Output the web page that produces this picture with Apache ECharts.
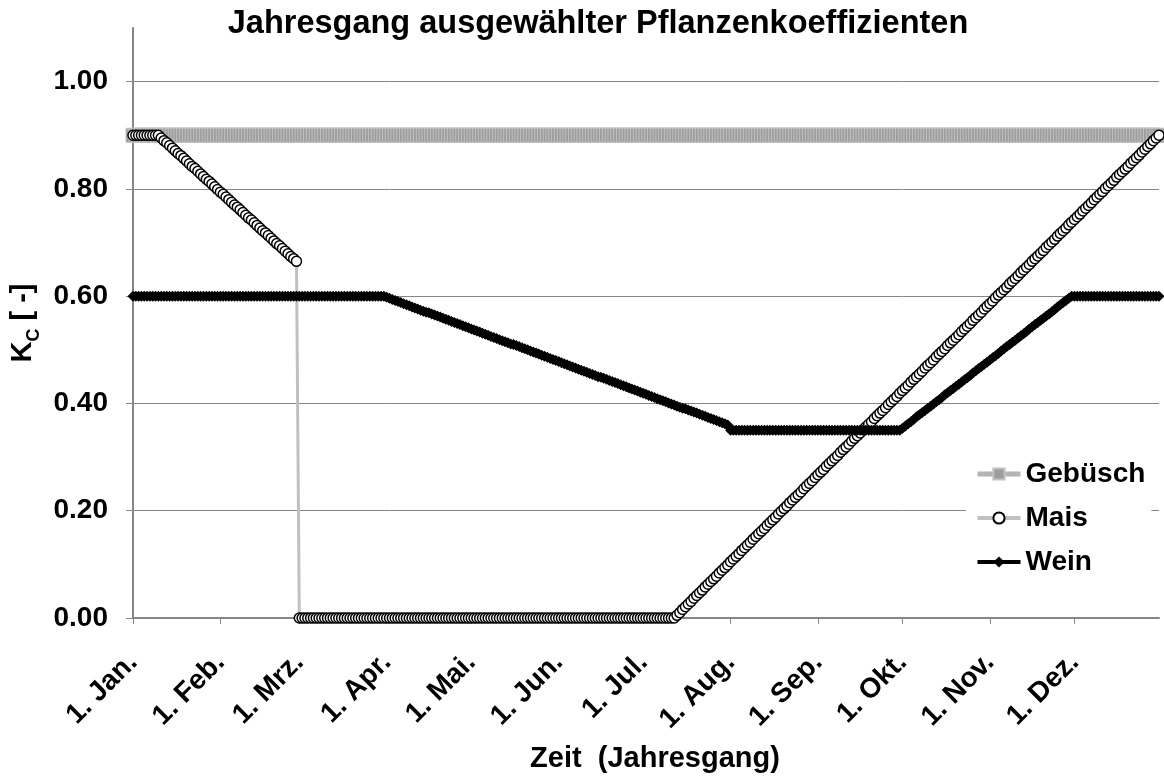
<!DOCTYPE html>
<html>
<head>
<meta charset="utf-8">
<script src="https://cdn.jsdelivr.net/npm/echarts@6/dist/echarts.min.js"></script>
<style>
  html, body { margin: 0; padding: 0; background: #fff; }
  #Kc { width: 1164px; height: 776px; }
</style>
</head>
<body>
<div id="Kc"></div>
<script>
// Monate (Achsenbeschriftung)
const monthLabels = ['Jan.', 'Feb.', 'Mrz.', 'Apr.', 'Mai.', 'Jun.', 'Jul.', 'Aug.', 'Sep.', 'Okt.', 'Nov.', 'Dez.']
const monthDays = [31, 28, 31, 30, 31, 30, 31, 31, 30, 31, 30, 31]
const yTicks = [0, 0.2, 0.4, 0.6, 0.8, 1.0]

// Tageswerte Kc, 1. Jan. .. 31. Dez.
const gebueschKc = [
  0.9, 0.9, 0.9, 0.9, 0.9, 0.9, 0.9, 0.9, 0.9, 0.9, 0.9, 0.9, 0.9, 0.9, 0.9, 0.9, 0.9, 0.9, 0.9, 0.9,
  0.9, 0.9, 0.9, 0.9, 0.9, 0.9, 0.9, 0.9, 0.9, 0.9, 0.9, 0.9, 0.9, 0.9, 0.9, 0.9, 0.9, 0.9, 0.9, 0.9,
  0.9, 0.9, 0.9, 0.9, 0.9, 0.9, 0.9, 0.9, 0.9, 0.9, 0.9, 0.9, 0.9, 0.9, 0.9, 0.9, 0.9, 0.9, 0.9, 0.9,
  0.9, 0.9, 0.9, 0.9, 0.9, 0.9, 0.9, 0.9, 0.9, 0.9, 0.9, 0.9, 0.9, 0.9, 0.9, 0.9, 0.9, 0.9, 0.9, 0.9,
  0.9, 0.9, 0.9, 0.9, 0.9, 0.9, 0.9, 0.9, 0.9, 0.9, 0.9, 0.9, 0.9, 0.9, 0.9, 0.9, 0.9, 0.9, 0.9, 0.9,
  0.9, 0.9, 0.9, 0.9, 0.9, 0.9, 0.9, 0.9, 0.9, 0.9, 0.9, 0.9, 0.9, 0.9, 0.9, 0.9, 0.9, 0.9, 0.9, 0.9,
  0.9, 0.9, 0.9, 0.9, 0.9, 0.9, 0.9, 0.9, 0.9, 0.9, 0.9, 0.9, 0.9, 0.9, 0.9, 0.9, 0.9, 0.9, 0.9, 0.9,
  0.9, 0.9, 0.9, 0.9, 0.9, 0.9, 0.9, 0.9, 0.9, 0.9, 0.9, 0.9, 0.9, 0.9, 0.9, 0.9, 0.9, 0.9, 0.9, 0.9,
  0.9, 0.9, 0.9, 0.9, 0.9, 0.9, 0.9, 0.9, 0.9, 0.9, 0.9, 0.9, 0.9, 0.9, 0.9, 0.9, 0.9, 0.9, 0.9, 0.9,
  0.9, 0.9, 0.9, 0.9, 0.9, 0.9, 0.9, 0.9, 0.9, 0.9, 0.9, 0.9, 0.9, 0.9, 0.9, 0.9, 0.9, 0.9, 0.9, 0.9,
  0.9, 0.9, 0.9, 0.9, 0.9, 0.9, 0.9, 0.9, 0.9, 0.9, 0.9, 0.9, 0.9, 0.9, 0.9, 0.9, 0.9, 0.9, 0.9, 0.9,
  0.9, 0.9, 0.9, 0.9, 0.9, 0.9, 0.9, 0.9, 0.9, 0.9, 0.9, 0.9, 0.9, 0.9, 0.9, 0.9, 0.9, 0.9, 0.9, 0.9,
  0.9, 0.9, 0.9, 0.9, 0.9, 0.9, 0.9, 0.9, 0.9, 0.9, 0.9, 0.9, 0.9, 0.9, 0.9, 0.9, 0.9, 0.9, 0.9, 0.9,
  0.9, 0.9, 0.9, 0.9, 0.9, 0.9, 0.9, 0.9, 0.9, 0.9, 0.9, 0.9, 0.9, 0.9, 0.9, 0.9, 0.9, 0.9, 0.9, 0.9,
  0.9, 0.9, 0.9, 0.9, 0.9, 0.9, 0.9, 0.9, 0.9, 0.9, 0.9, 0.9, 0.9, 0.9, 0.9, 0.9, 0.9, 0.9, 0.9, 0.9,
  0.9, 0.9, 0.9, 0.9, 0.9, 0.9, 0.9, 0.9, 0.9, 0.9, 0.9, 0.9, 0.9, 0.9, 0.9, 0.9, 0.9, 0.9, 0.9, 0.9,
  0.9, 0.9, 0.9, 0.9, 0.9, 0.9, 0.9, 0.9, 0.9, 0.9, 0.9, 0.9, 0.9, 0.9, 0.9, 0.9, 0.9, 0.9, 0.9, 0.9,
  0.9, 0.9, 0.9, 0.9, 0.9, 0.9, 0.9, 0.9, 0.9, 0.9, 0.9, 0.9, 0.9, 0.9, 0.9, 0.9, 0.9, 0.9, 0.9, 0.9,
  0.9, 0.9, 0.9, 0.9, 0.9
]

const maisKc = [
  0.9, 0.9, 0.9, 0.9, 0.9, 0.9, 0.9, 0.9, 0.9, 0.9,
  0.895, 0.890, 0.886, 0.881, 0.876, 0.871, 0.866, 0.862, 0.857, 0.852,
  0.847, 0.842, 0.838, 0.833, 0.828, 0.823, 0.818, 0.814, 0.809, 0.804,
  0.799, 0.794, 0.790, 0.785, 0.780, 0.775, 0.770, 0.766, 0.761, 0.756,
  0.751, 0.746, 0.742, 0.737, 0.732, 0.727, 0.722, 0.718, 0.713, 0.708,
  0.703, 0.698, 0.694, 0.689, 0.684, 0.679, 0.674, 0.670, 0.665,
  0, 0, 0, 0, 0, 0, 0, 0, 0, 0, 0, 0, 0, 0, 0, 0, 0, 0, 0, 0,
  0, 0, 0, 0, 0, 0, 0, 0, 0, 0, 0, 0, 0, 0, 0, 0, 0, 0, 0, 0,
  0, 0, 0, 0, 0, 0, 0, 0, 0, 0, 0, 0, 0, 0, 0, 0, 0, 0, 0, 0,
  0, 0, 0, 0, 0, 0, 0, 0, 0, 0, 0, 0, 0, 0, 0, 0, 0, 0, 0, 0,
  0, 0, 0, 0, 0, 0, 0, 0, 0, 0, 0, 0, 0, 0, 0, 0, 0, 0, 0, 0,
  0, 0, 0, 0, 0, 0, 0, 0, 0, 0, 0, 0, 0, 0, 0, 0, 0, 0, 0, 0,
  0, 0, 0, 0, 0, 0, 0, 0, 0, 0, 0, 0, 0, 0,
  0.005, 0.010, 0.016, 0.021, 0.026, 0.031, 0.037, 0.042, 0.047, 0.052,
  0.058, 0.063, 0.068, 0.073, 0.078, 0.084, 0.089, 0.094, 0.099, 0.105,
  0.110, 0.115, 0.120, 0.126, 0.131, 0.136, 0.141, 0.147, 0.152, 0.157,
  0.162, 0.167, 0.173, 0.178, 0.183, 0.188, 0.194, 0.199, 0.204, 0.209,
  0.215, 0.220, 0.225, 0.230, 0.235, 0.241, 0.246, 0.251, 0.256, 0.262,
  0.267, 0.272, 0.277, 0.283, 0.288, 0.293, 0.298, 0.303, 0.309, 0.314,
  0.319, 0.324, 0.330, 0.335, 0.340, 0.345, 0.351, 0.356, 0.361, 0.366,
  0.372, 0.377, 0.382, 0.387, 0.392, 0.398, 0.403, 0.408, 0.413, 0.419,
  0.424, 0.429, 0.434, 0.440, 0.445, 0.450, 0.455, 0.460, 0.466, 0.471,
  0.476, 0.481, 0.487, 0.492, 0.497, 0.502, 0.508, 0.513, 0.518, 0.523,
  0.528, 0.534, 0.539, 0.544, 0.549, 0.555, 0.560, 0.565, 0.570, 0.576,
  0.581, 0.586, 0.591, 0.597, 0.602, 0.607, 0.612, 0.617, 0.623, 0.628,
  0.633, 0.638, 0.644, 0.649, 0.654, 0.659, 0.665, 0.670, 0.675, 0.680,
  0.685, 0.691, 0.696, 0.701, 0.706, 0.712, 0.717, 0.722, 0.727, 0.733,
  0.738, 0.743, 0.748, 0.753, 0.759, 0.764, 0.769, 0.774, 0.780, 0.785,
  0.790, 0.795, 0.801, 0.806, 0.811, 0.816, 0.822, 0.827, 0.832, 0.837,
  0.842, 0.848, 0.853, 0.858, 0.863, 0.869, 0.874, 0.879, 0.884, 0.890,
  0.895, 0.900
]

const weinKc = [
  0.6, 0.6, 0.6, 0.6, 0.6, 0.6, 0.6, 0.6, 0.6, 0.6, 0.6, 0.6, 0.6, 0.6, 0.6, 0.6, 0.6, 0.6, 0.6, 0.6,
  0.6, 0.6, 0.6, 0.6, 0.6, 0.6, 0.6, 0.6, 0.6, 0.6, 0.6, 0.6, 0.6, 0.6, 0.6, 0.6, 0.6, 0.6, 0.6, 0.6,
  0.6, 0.6, 0.6, 0.6, 0.6, 0.6, 0.6, 0.6, 0.6, 0.6, 0.6, 0.6, 0.6, 0.6, 0.6, 0.6, 0.6, 0.6, 0.6, 0.6,
  0.6, 0.6, 0.6, 0.6, 0.6, 0.6, 0.6, 0.6, 0.6, 0.6, 0.6, 0.6, 0.6, 0.6, 0.6, 0.6, 0.6, 0.6, 0.6, 0.6,
  0.6, 0.6, 0.6, 0.6, 0.6, 0.6, 0.6, 0.6, 0.6, 0.6,
  0.598, 0.596, 0.594, 0.592, 0.590, 0.588, 0.586, 0.584, 0.582, 0.580,
  0.578, 0.576, 0.574, 0.572, 0.570, 0.569, 0.567, 0.565, 0.563, 0.561,
  0.559, 0.557, 0.555, 0.553, 0.551, 0.549, 0.547, 0.545, 0.543, 0.541,
  0.539, 0.537, 0.535, 0.533, 0.531, 0.529, 0.527, 0.525, 0.523, 0.521,
  0.519, 0.517, 0.515, 0.513, 0.511, 0.510, 0.508, 0.506, 0.504, 0.502,
  0.500, 0.498, 0.496, 0.494, 0.492, 0.490, 0.488, 0.486, 0.484, 0.482,
  0.480, 0.478, 0.476, 0.474, 0.472, 0.470, 0.468, 0.466, 0.464, 0.462,
  0.460, 0.458, 0.456, 0.454, 0.452, 0.450, 0.449, 0.447, 0.445, 0.443,
  0.441, 0.439, 0.437, 0.435, 0.433, 0.431, 0.429, 0.427, 0.425, 0.423,
  0.421, 0.419, 0.417, 0.415, 0.413, 0.411, 0.409, 0.407, 0.405, 0.403,
  0.401, 0.399, 0.397, 0.395, 0.393, 0.391, 0.390, 0.388, 0.386, 0.384,
  0.382, 0.380, 0.378, 0.376, 0.374, 0.372, 0.370, 0.368, 0.366, 0.364,
  0.362, 0.360,
  0.35, 0.35, 0.35, 0.35, 0.35, 0.35, 0.35, 0.35, 0.35, 0.35, 0.35, 0.35, 0.35, 0.35, 0.35, 0.35, 0.35, 0.35, 0.35, 0.35,
  0.35, 0.35, 0.35, 0.35, 0.35, 0.35, 0.35, 0.35, 0.35, 0.35, 0.35, 0.35, 0.35, 0.35, 0.35, 0.35, 0.35, 0.35, 0.35, 0.35,
  0.35, 0.35, 0.35, 0.35, 0.35, 0.35, 0.35, 0.35, 0.35, 0.35, 0.35, 0.35, 0.35, 0.35, 0.35, 0.35, 0.35, 0.35, 0.35, 0.35,
  0.35,
  0.354, 0.358, 0.362, 0.366, 0.370, 0.375, 0.379, 0.383, 0.387, 0.391,
  0.395, 0.399, 0.403, 0.407, 0.411, 0.416, 0.420, 0.424, 0.428, 0.432,
  0.436, 0.440, 0.444, 0.448, 0.452, 0.457, 0.461, 0.465, 0.469, 0.473,
  0.477, 0.481, 0.485, 0.489, 0.493, 0.498, 0.502, 0.506, 0.510, 0.514,
  0.518, 0.522, 0.526, 0.530, 0.534, 0.539, 0.543, 0.547, 0.551, 0.555,
  0.559, 0.563, 0.567, 0.571, 0.575, 0.580, 0.584, 0.588, 0.592, 0.596,
  0.600,
  0.6, 0.6, 0.6, 0.6, 0.6, 0.6, 0.6, 0.6, 0.6, 0.6, 0.6, 0.6, 0.6, 0.6, 0.6, 0.6, 0.6, 0.6, 0.6, 0.6,
  0.6, 0.6, 0.6, 0.6, 0.6, 0.6, 0.6, 0.6, 0.6, 0.6, 0.6
]

// Kategorien: ein Eintrag pro Tag
const days = []
const monthStarts = []
monthLabels.forEach((m, i) => {
  monthStarts.push(days.length)
  for (let d = 1; d <= monthDays[i]; d++) days.push(d + '. ' + m)
})

const font = 'Liberation Sans, Arial, sans-serif'
const isMonthStart = idx => monthStarts.indexOf(idx) >= 0

const options = {
  animation: false,
  backgroundColor: '#fff',
  textStyle: { fontFamily: font },
  title: {
    text: 'Jahresgang ausgewählter Pflanzenkoeffizienten',
    left: 593,
    top: 3,
    textAlign: 'center',
    textStyle: { fontFamily: font, fontSize: 32.5, fontWeight: 'bold', color: '#000' }
  },
  grid: {
    left: 133,
    right: 5,
    top: 28,
    bottom: 158,
    containLabel: false,
    outerBoundsMode: 'none'
  },
  legend: {
    orient: 'vertical',
    left: 966,
    top: 456,
    padding: [4, 6, 4, 9],
    backgroundColor: '#fff',
    itemWidth: 43,
    itemHeight: 14,
    itemGap: 16,
    textStyle: { fontFamily: font, fontSize: 28, fontWeight: 'bold', color: '#000' },
    data: [
      { name: 'Gebüsch', lineStyle: { width: 5, color: '#b4b4b4' } },
      { name: 'Mais', lineStyle: { width: 4, color: '#c0c0c0' } },
      { name: 'Wein', lineStyle: { width: 4, color: '#000' } }
    ]
  },
  xAxis: {
    type: 'category',
    boundaryGap: false,
    data: days,
    name: 'Zeit  (Jahresgang)',
    nameLocation: 'middle',
    nameGap: 126,
    nameTextStyle: { fontFamily: font, fontSize: 29, fontWeight: 'bold', color: '#000', padding: [0, 0, 0, 18] },
    axisLine: { lineStyle: { color: '#868686', width: 2 } },
    axisTick: { interval: isMonthStart, length: 6, lineStyle: { color: '#868686', width: 1 } },
    axisLabel: {
      interval: isMonthStart,
      rotate: 45,
      margin: 40,
      fontFamily: font,
      fontSize: 28,
      fontWeight: 'bold',
      color: '#000'
    },
    splitLine: { show: false }
  },
  yAxis: {
    type: 'value',
    min: 0,
    max: 1.1,
    interval: 0.2,
    name: '{k|K}{s|C}{k| [ -]}',
    nameLocation: 'middle',
    nameRotate: 90,
    nameGap: 86,
    nameTextStyle: {
      rich: {
        k: { fontFamily: font, fontSize: 29, fontWeight: 'bold', color: '#000', lineHeight: 32 },
        s: { fontFamily: font, fontSize: 18, fontWeight: 'bold', color: '#000', verticalAlign: 'top', padding: [21, 0, 0, 0] }
      }
    },
    axisLine: { show: true, lineStyle: { color: '#868686', width: 2 } },
    axisTick: { show: true, length: 7, lineStyle: { color: '#868686', width: 1 } },
    axisLabel: {
      margin: 25,
      showMaxLabel: false,
      fontFamily: font,
      fontSize: 28,
      fontWeight: 'bold',
      color: '#000',
      formatter: v => (yTicks.indexOf(Math.round(v * 10) / 10) >= 0 ? v.toFixed(2) : '')
    },
    splitLine: { show: true, showMaxLine: false, lineStyle: { color: '#868686', width: 1 } }
  },
  series: [
    {
      name: 'Gebüsch',
      type: 'line',
      data: gebueschKc,
      symbol: 'rect',
      symbolSize: 14,
      showAllSymbol: true,
      lineStyle: { color: '#c0c0c0', width: 3 },
      itemStyle: { color: '#9d9d9d', borderColor: '#c2c2c2', borderWidth: 1 },
      z: 2
    },
    {
      name: 'Mais',
      type: 'line',
      data: maisKc,
      symbol: 'circle',
      symbolSize: 10,
      showAllSymbol: true,
      lineStyle: { color: '#c0c0c0', width: 3 },
      itemStyle: { color: '#fff', borderColor: '#000', borderWidth: 1.5 },
      z: 3
    },
    {
      name: 'Wein',
      type: 'line',
      data: weinKc,
      symbol: 'diamond',
      symbolSize: 11,
      showAllSymbol: true,
      lineStyle: { color: '#000', width: 7 },
      itemStyle: { color: '#000' },
      z: 4
    }
  ]
}

const myChart = echarts.init(document.getElementById('Kc'))
myChart.setOption(options)

const lens = [gebueschKc.length, maisKc.length, weinKc.length, days.length]
if (lens.some(n => n !== 365)) throw new Error('length mismatch: ' + lens.join(','))
</script>
</body>
</html>
